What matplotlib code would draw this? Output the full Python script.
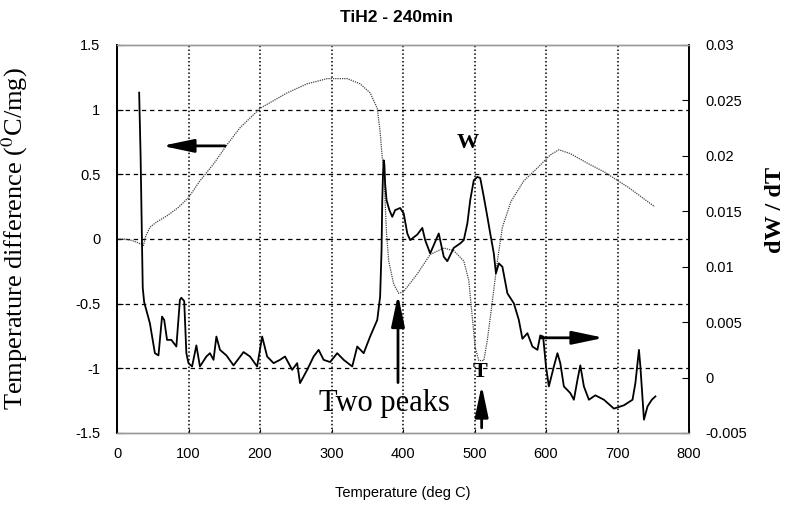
import matplotlib
matplotlib.use("Agg")
import matplotlib.pyplot as plt

# ---------------- data ----------------
title = "TiH2 - 240min"
x_ticks = [0, 100, 200, 300, 400, 500, 600, 700, 800]
left_ticks = [1.5, 1, 0.5, 0, -0.5, -1, -1.5]
left_ticklabels = ["1.5", "1", "0.5", "0", "-0.5", "-1", "-1.5"]
right_ticks = [0.03, 0.025, 0.02, 0.015, 0.01, 0.005, 0, -0.005]
right_ticklabels = ["0.03", "0.025", "0.02", "0.015", "0.01", "0.005", "0", "-0.005"]

# Temperature difference (left axis), thin dotted curve
dta_T = [0, 10, 20, 30, 37, 40, 46, 55, 70, 85, 100, 116, 135, 154, 172, 200, 238, 266,
         294, 322, 340, 354, 364, 368, 371, 373, 375, 377, 380, 387, 394, 400, 406, 420,
         438, 457, 471, 485, 492, 497, 501, 506, 513, 518, 525, 532, 539, 551, 569, 588,
         606, 618, 634, 660, 681, 715, 752]
dta_v = [0.0, 0.0, -0.01, -0.03, -0.05, 0.02, 0.09, 0.13, 0.18, 0.24, 0.32, 0.45, 0.58,
         0.73, 0.86, 1.01, 1.13, 1.20, 1.24, 1.24, 1.20, 1.13, 1.01, 0.83, 0.63, 0.55,
         0.29, 0.04, -0.17, -0.35, -0.42, -0.41, -0.37, -0.27, -0.12, -0.07, -0.09,
         -0.17, -0.32, -0.61, -0.84, -0.94, -0.94, -0.78, -0.48, -0.17, 0.09, 0.29,
         0.45, 0.55, 0.65, 0.69, 0.66, 0.58, 0.52, 0.40, 0.25]

# dW/dT (right axis), solid noisy curve
ddw_T = [31, 33, 35, 36, 38, 46, 53, 58, 63, 66, 70, 76, 83, 88, 90, 94, 97, 100, 105,
         111, 116, 125, 130, 135, 139, 144, 153, 163, 177, 186, 196, 203, 210, 219, 228,
         235, 245, 252, 256, 266, 275, 282, 289, 298, 308, 317, 329, 336, 345, 354, 364,
         368, 370, 371, 372, 373, 374, 375, 377, 381, 385, 389, 396, 401, 406, 410, 420,
         427, 431, 438, 450, 457, 462, 471, 480, 485, 490, 494, 499, 504, 508, 513, 518,
         522, 527, 530, 534, 539, 546, 555, 562, 567, 574, 581, 588, 592, 596, 600, 604,
         611, 616, 620, 625, 634, 639, 644, 648, 653, 660, 669, 681, 695, 709, 721, 725,
         730, 732, 737, 742, 748, 753]
ddw_v = [0.0257, 0.0200, 0.0120, 0.0081, 0.0068, 0.0049, 0.0022, 0.0020, 0.0055, 0.0052,
         0.0034, 0.0034, 0.0028, 0.0070, 0.0072, 0.0069, 0.0022, 0.0013, 0.0010, 0.0029,
         0.0010, 0.0019, 0.0022, 0.0016, 0.0037, 0.0025, 0.0020, 0.0011, 0.0023, 0.0019,
         0.0010, 0.0037, 0.0019, 0.0013, 0.0016, 0.0019, 0.0007, 0.0013, -0.0005, 0.0007,
         0.0019, 0.0025, 0.0016, 0.0014, 0.0022, 0.0016, 0.0010, 0.0028, 0.0022, 0.0037,
         0.0052, 0.0073, 0.0115, 0.0160, 0.0183, 0.0196, 0.0192, 0.0175, 0.0160, 0.0151,
         0.0145, 0.0151, 0.0153, 0.0148, 0.0130, 0.0124, 0.0129, 0.0135, 0.0124, 0.0112,
         0.0130, 0.0109, 0.0105, 0.0117, 0.0121, 0.0124, 0.0139, 0.0160, 0.0178, 0.0181,
         0.0180, 0.0163, 0.0145, 0.0130, 0.0112, 0.0094, 0.0103, 0.0100, 0.0076, 0.0067,
         0.0052, 0.0035, 0.0040, 0.0028, 0.0025, 0.0038, 0.0037, 0.0010, -0.0008, 0.0010,
         0.0022, 0.0013, -0.0008, -0.0014, -0.0020, -0.0002, 0.0011, -0.0008, -0.0020,
         -0.0016, -0.0020, -0.0028, -0.0025, -0.0020, -0.0005, 0.0025, 0.0010, -0.0038,
         -0.0026, -0.0020, -0.0017]

# ---------------- figure ----------------
plt.rcParams['mathtext.fontset'] = 'stix'
sans = "Liberation Sans"
serif = "Liberation Serif"

fig = plt.figure(figsize=(7.87, 5.05), dpi=100)
ax = fig.add_axes([117/787, 1 - 433/505, 572/787, 388/505])
ax2 = ax.twinx()

ax.set_xlim(0, 800)
ax.set_ylim(-1.5, 1.5)
ax2.set_ylim(-0.005, 0.03)

# grid
for yv in left_ticks[1:-1]:
    ax.axhline(yv, color='black', lw=0.9, ls=(0, (3.5, 3)), zorder=1)
for xv in x_ticks[1:-1]:
    ax.axvline(xv, color='black', lw=1.1, ls=(0, (1, 1.5)), zorder=1)

ax.plot(dta_T, dta_v, color='#444444', lw=0.9, ls=(0, (1, 0.8)), zorder=3)
ax2.plot(ddw_T, ddw_v, color='black', lw=1.3, zorder=3)

ax.set_xticks(x_ticks)
ax.set_xticklabels([str(v) for v in x_ticks], fontfamily=sans, fontsize=10.5)
ax.set_yticks(left_ticks)
ax.set_yticklabels(left_ticklabels, fontfamily=sans, fontsize=10.5)
ax2.set_yticks(right_ticks)
ax2.set_yticklabels(right_ticklabels, fontfamily=sans, fontsize=10.5)

ax.tick_params(axis='x', direction='in', length=3, pad=10, colors='black')
ax.tick_params(axis='y', direction='in', length=4, pad=12)
ax2.tick_params(axis='y', direction='in', length=5, pad=12)

for a in (ax, ax2):
    a.spines['top'].set_color('#999999')
    a.spines['bottom'].set_color('#999999')
    a.spines['top'].set_linewidth(1.0)
    a.spines['bottom'].set_linewidth(1.0)
    a.spines['left'].set_linewidth(1.3)
    a.spines['right'].set_linewidth(1.2)

ax.set_xlabel("Temperature (deg C)", fontfamily=sans, fontsize=10.5, labelpad=18)
ax.set_ylabel("Temperature difference ($^{0}$C/mg)", fontfamily=serif, fontsize=19)
ax.yaxis.set_label_coords(-0.152, 0.5)
ax2.set_ylabel("dW / dT", fontfamily=serif, fontsize=17.5, fontweight='bold', rotation=90)
ax2.yaxis.set_label_coords(1.133, 0.575)

fig.text(397/787, 1 - 17/505, title, fontfamily=sans, fontsize=12.5, fontweight='bold',
         ha='center', va='center')

# annotations (left-axis data coordinates)
arrow_kw = dict(arrowstyle='-|>,head_length=1.9,head_width=0.4', lw=2.0, color='black',
                shrinkA=0, shrinkB=0)
ax.annotate("", xy=(63, 0.72), xytext=(151, 0.72), arrowprops=arrow_kw, zorder=5)
ax.annotate("", xy=(681, -0.764), xytext=(592, -0.764), arrowprops=arrow_kw, zorder=5)
ax.annotate("", xy=(393, -0.43), xytext=(393, -1.11), arrowprops=arrow_kw, zorder=5)
ax.annotate("", xy=(510, -1.13), xytext=(510, -1.46), arrowprops=arrow_kw, zorder=5)

ax.text(490, 0.74, "W", fontfamily=serif, fontsize=16, fontweight='bold', ha='center', va='center', zorder=6)
ax.text(508, -1.03, "T", fontfamily=serif, fontsize=16, fontweight='bold', ha='center', va='center', zorder=6)
ax.text(374, -1.27, "Two peaks", fontfamily=serif, fontsize=22, ha='center', va='center', zorder=6)

fig.savefig("out.png", dpi=100)
